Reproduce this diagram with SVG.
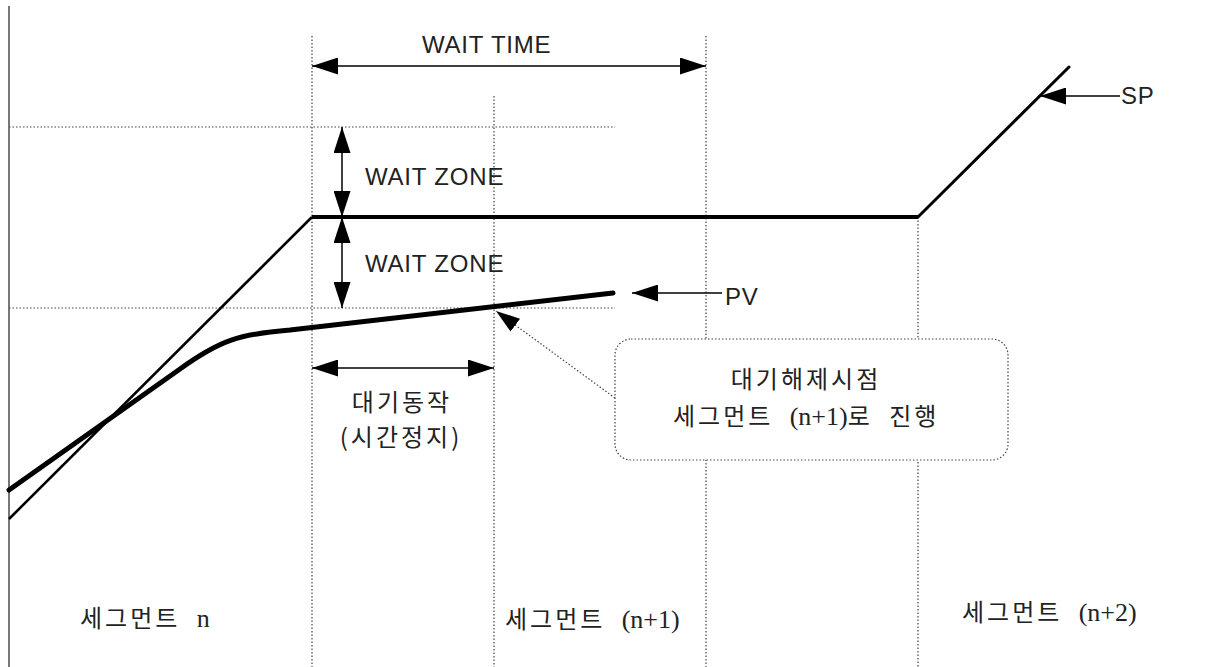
<svg xmlns="http://www.w3.org/2000/svg" width="1222" height="667" viewBox="0 0 1222 667">
<style>
.dot{stroke:#444;stroke-width:1.2;stroke-dasharray:1.5 2;fill:none}
.dim{stroke:#000;stroke-width:1.5;fill:none}
.lat{font-family:"Liberation Sans","DejaVu Sans",sans-serif;font-size:24px;fill:#222;letter-spacing:0.8px}
.kor{font-family:"Noto Sans CJK KR","Noto Sans",sans-serif;font-size:24px;fill:#222;letter-spacing:3px;word-spacing:8px}
.ser{font-family:"Liberation Serif","Times New Roman",serif;font-size:26px;letter-spacing:0}
</style>
<defs>
<marker id="ah" viewBox="0 0 26 17" refX="26" refY="8.5" markerWidth="26" markerHeight="17" markerUnits="userSpaceOnUse" orient="auto-start-reverse">
<path d="M0,0 L26,8.5 L0,17 z" fill="#000"/>
</marker>
<marker id="ahs" viewBox="0 0 24 16" refX="24" refY="8" markerWidth="24" markerHeight="16" markerUnits="userSpaceOnUse" orient="auto">
<path d="M0,0 L24,8 L0,16 z" fill="#000"/>
</marker>
</defs>
<rect width="1222" height="667" fill="#fff"/>
<g id="grid">
<line class="dot" x1="9" y1="127" x2="615" y2="127"/>
<line class="dot" x1="9" y1="308" x2="615" y2="308"/>
<line class="dot" x1="312" y1="36" x2="312" y2="667"/>
<line class="dot" x1="494" y1="96" x2="494" y2="667"/>
<line class="dot" x1="706" y1="36" x2="706" y2="667"/>
<line class="dot" x1="918" y1="217" x2="918" y2="667"/>
</g>
<g id="axis">
<line x1="9" y1="6" x2="9" y2="667" stroke="#555" stroke-width="1.6"/>
</g>
<g id="sp-curve">
<path d="M9,519 L312,217" stroke="#000" stroke-width="2.6" fill="none"/>
<path d="M312,217 L918,217" stroke="#000" stroke-width="4" fill="none"/>
<path d="M918,217 L1069,67" stroke="#000" stroke-width="3" stroke-linecap="round" fill="none"/>
</g>
<g id="pv-curve">
<path d="M9,490 L180,369 C220,340 240,334 290,330 L613,293" stroke="#000" stroke-width="5" stroke-linecap="round" stroke-linejoin="round" fill="none"/>
</g>
<g id="callout-box">
<rect x="615" y="339" width="393" height="121" rx="16" ry="16" class="dot" style="fill:#fff"/>
<text class="kor" x="806" y="388" text-anchor="middle">대기해제시점</text>
<text class="kor" x="673" y="425">세그먼트 <tspan class="ser">(n+1)</tspan>로 진행</text>
</g>
<g id="connectors">
<line class="dim" x1="312" y1="66" x2="706" y2="66" marker-start="url(#ah)" marker-end="url(#ah)"/>
<line class="dim" x1="342" y1="127" x2="342" y2="217" marker-start="url(#ah)" marker-end="url(#ah)"/>
<line class="dim" x1="342" y1="217" x2="342" y2="308" marker-start="url(#ah)" marker-end="url(#ah)"/>
<line class="dim" x1="312" y1="368" x2="494" y2="368" marker-start="url(#ah)" marker-end="url(#ah)"/>
<line class="dim" x1="722" y1="293" x2="632" y2="293" marker-end="url(#ah)"/>
<line class="dim" x1="1120" y1="96" x2="1040" y2="96" marker-end="url(#ah)"/>
<line class="dot" x1="615" y1="398" x2="496" y2="311" marker-end="url(#ahs)"/>
</g>
<g id="labels">
<text class="lat" x="422" y="53">WAIT TIME</text>
<text class="lat" x="365" y="185">WAIT ZONE</text>
<text class="lat" x="365" y="272">WAIT ZONE</text>
<text class="lat" x="725" y="305">PV</text>
<text class="lat" x="1121" y="104">SP</text>
<text class="kor" x="402" y="411" text-anchor="middle">대기동작</text>
<text class="kor" x="401" y="446" text-anchor="middle">(시간정지)</text>
<text class="kor" x="80" y="627">세그먼트 <tspan class="ser">n</tspan></text>
<text class="kor" x="505" y="628">세그먼트 <tspan class="ser">(n+1)</tspan></text>
<text class="kor" x="962" y="621">세그먼트 <tspan class="ser">(n+2)</tspan></text>
</g>
</svg>
